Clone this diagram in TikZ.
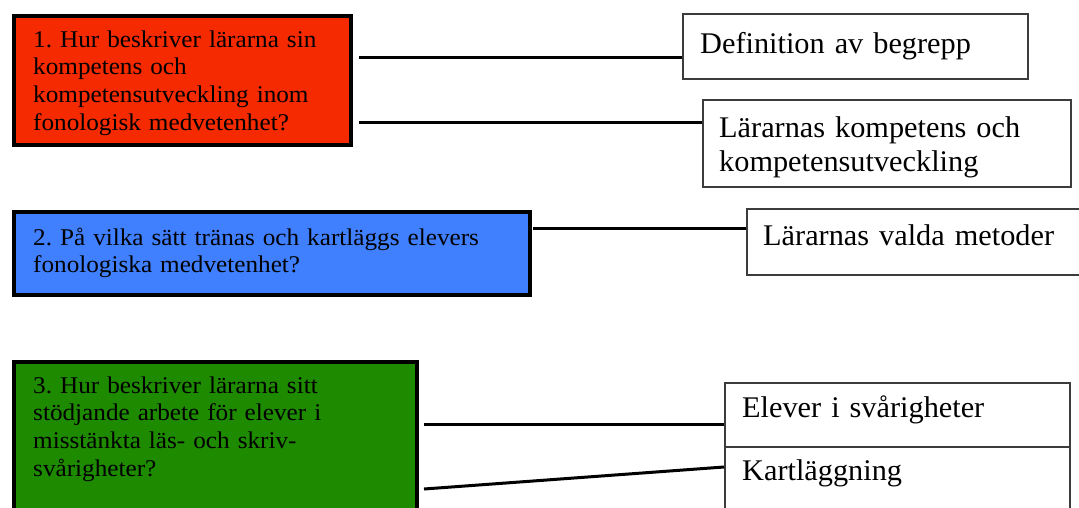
\documentclass[tikz,border=0pt]{standalone}
\usepackage{fontspec}
\usetikzlibrary{calc}
\setmainfont{Liberation Serif}
\newfontfamily\qfont{Liberation Serif}[FakeStretch=1.05]
\newfontfamily\tfont{Liberation Serif}[FakeStretch=1.01]
\frenchspacing
\definecolor{qred}{RGB}{246,42,0}
\definecolor{qblue}{RGB}{64,128,255}
\definecolor{qgreen}{RGB}{30,138,0}
\definecolor{tborder}{RGB}{60,60,60}
\tikzset{
  qbox/.style={draw=black, line width=4pt, rectangle, inner sep=0pt, anchor=north west},
  tbox/.style={draw=tborder, line width=1.5pt, fill=white, rectangle, inner sep=0pt, anchor=north west},
  qtext/.style={anchor=base west, inner sep=0pt, text width=#1, align=left,
    font=\qfont\fontsize{24pt}{27.8pt}\selectfont\frenchspacing},
  ttext/.style={anchor=base west, inner sep=0pt, text width=#1, align=left,
    font=\tfont\fontsize{30pt}{34pt}\selectfont\frenchspacing},
  link/.style={draw=black, line width=3pt}
}
\begin{document}
\begin{tikzpicture}[x=1pt,y=-1pt]
\useasboundingbox[fill=white] (0,0) rectangle (1079,507);
% question boxes
\node[qbox, fill=qred, minimum width=337pt, minimum height=129pt] (q1) at (12,14) {};
\node[qbox, fill=qblue, minimum width=516pt, minimum height=83pt] (q2) at (12,210) {};
\node[qbox, fill=qgreen, minimum width=403pt, minimum height=175pt] (q3) at (12,360) {};
\node[qtext=320pt] (q1t) at (33,47) {1. Hur beskriver lärarna sin\\kompetens och\\kompetensutveckling inom\\fonologisk medvetenhet?};
\node[qtext=480pt] (q2t) at (33,245) {2. På vilka sätt tränas och kartläggs elevers\\fonologiska medvetenhet?};
\node[qtext=380pt] (q3t) at (33,393) {3. Hur beskriver lärarna sitt\\stödjande arbete för elever i\\misstänkta läs- och skriv-\\svårigheter?};
% theme boxes
\node[tbox, minimum width=345pt, minimum height=65pt] (t1) at (682,13) {};
\node[tbox, minimum width=368pt, minimum height=87pt] (t2) at (702,99) {};
\node[tbox, minimum width=345pt, minimum height=66pt] (t3) at (746,208) {};
\node[tbox, minimum width=345pt, minimum height=64pt] (t4) at (724,382) {};
\node[tbox, minimum width=345pt, minimum height=80pt] (t5) at (724,446) {};
\node[ttext=330pt] (t1t) at (700,53) {Definition av begrepp};
\node[ttext=350pt] (t2t) at (719,137) {Lärarnas kompetens och\\kompetensutveckling};
\node[ttext=320pt] (t3t) at (763,245) {Lärarnas valda metoder};
\node[ttext=320pt] (t4t) at (742,417) {Elever i svårigheter};
\node[ttext=320pt] (t5t) at (742,480) {Kartläggning};
% connectors
\coordinate (c1) at ($(q1.north east)+(6,43)$);
\coordinate (c2) at ($(q1.north east)+(6,108)$);
\coordinate (c3) at ($(q2.north east)+(1,18)$);
\coordinate (c4) at ($(q3.north east)+(5,64)$);
\coordinate (c5) at ($(q3.north east)+(5,129)$);
\coordinate (e5) at ($(t5.north west)+(0,21)$);
\draw[link] (c1) -- (c1 -| t1.west);
\draw[link] (c2) -- (c2 -| t2.west);
\draw[link] (c3) -- (c3 -| t3.west);
\draw[link] (c4) -- (c4 -| t4.west);
\draw[link] (c5) -- (e5);
\end{tikzpicture}
\end{document}
